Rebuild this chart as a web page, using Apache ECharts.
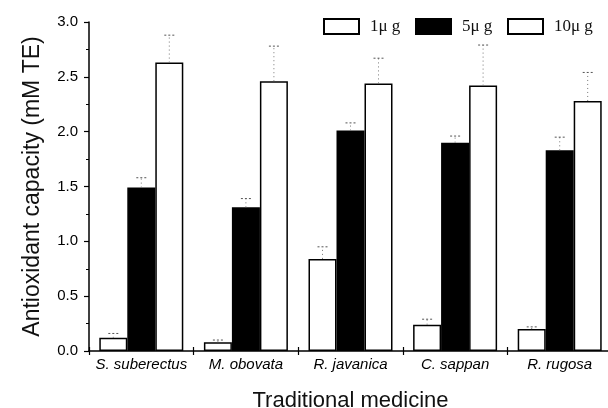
<!DOCTYPE html>
<html>
<head>
<meta charset="utf-8">
<script src="https://cdn.jsdelivr.net/npm/echarts@6/dist/echarts.min.js"></script>
<style>html,body{margin:0;padding:0;background:#fff}#c{width:608px;height:408px}</style>
</head>
<body>
<div id="c"></div>
<script>
var categories = ['S. suberectus', 'M. obovata', 'R. javanica', 'C. sappan', 'R. rugosa'];
var seriesNames = ['1\u03bc g', '5\u03bc g', '10\u03bc g'];
var values1 = [0.12, 0.08, 0.84, 0.24, 0.20];
var values5 = [1.49, 1.31, 2.01, 1.90, 1.83];
var values10 = [2.63, 2.46, 2.44, 2.42, 2.28];
var err1 = [0.16, 0.10, 0.95, 0.29, 0.22];
var err5 = [1.58, 1.39, 2.08, 1.96, 1.95];
var err10 = [2.88, 2.78, 2.67, 2.79, 2.54];
var yTicks = [0, 0.5, 1.0, 1.5, 2.0, 2.5, 3.0];

var BW = 28;
var chart = echarts.init(document.getElementById('c'));

function errSeries(tops, vals, k) {
  var data = vals.map(function (v, i) { return [i, v, tops[i]]; });
  return {
    type: 'custom', xAxisIndex: 0, yAxisIndex: 0, silent: true, z: 5,
    data: data,
    renderItem: function (params, api) {
      var base = api.coord([api.value(0), api.value(1)]);
      var top = api.coord([api.value(0), api.value(2)]);
      var x = base[0] + (k - 1) * BW;
      return {
        type: 'group',
        children: [
          { type: 'line', shape: { x1: x, y1: base[1], x2: x, y2: top[1] },
            style: { stroke: '#777', lineWidth: 1, lineDash: [1, 3] } },
          { type: 'line', shape: { x1: x - 5, y1: top[1], x2: x + 5, y2: top[1] },
            style: { stroke: '#555', lineWidth: 1, lineDash: [2, 2] } }
        ]
      };
    }
  };
}

function mkLegend(name, left) {
  return {
    data: [name], left: left, top: 18, icon: 'rect', itemWidth: 35, itemHeight: 15,
    itemGap: 0, padding: 0,
    textStyle: { fontFamily: 'Liberation Serif', fontSize: 17, color: '#111', padding: [0, 0, 0, 6] }
  };
}

var barStyleWhite = { color: '#fff', borderColor: '#000', borderWidth: 1.5 };
var barStyleBlack = { color: '#000', borderColor: '#000', borderWidth: 1.5 };

chart.setOption({
  animation: false,
  backgroundColor: '#fff',
  legend: [mkLegend(seriesNames[0], 323), mkLegend(seriesNames[1], 415), mkLegend(seriesNames[2], 507)],
  grid: { left: 89, right: -4, top: 22, bottom: 57, containLabel: false, outerBoundsMode: 'none' },
  xAxis: [{
    type: 'category', data: categories,
    axisLine: { lineStyle: { color: '#000', width: 1.5 } },
    axisTick: { show: true, length: 4, lineStyle: { color: '#000', width: 1.2 } },
    axisLabel: { interval: 0, color: '#000', fontFamily: 'Liberation Sans', fontStyle: 'italic', fontSize: 15, margin: 6 },
    name: 'Traditional medicine', nameLocation: 'middle', nameGap: 39,
    nameTextStyle: { fontFamily: 'Liberation Sans', fontSize: 22, color: '#111' }
  }, {
    type: 'category', data: categories, position: 'bottom',
    axisLine: { show: false },
    axisTick: { show: true, inside: true, length: 4, lineStyle: { color: '#000', width: 1.2 } },
    axisLabel: { show: false }
  }],
  yAxis: {
    type: 'value', min: 0, max: 3, interval: 0.5,
    axisLine: { show: true, lineStyle: { color: '#000', width: 1.5 } },
    axisTick: { show: true, length: 5, lineStyle: { color: '#000', width: 1.2 } },
    minorTick: { show: true, splitNumber: 2, length: 3, lineStyle: { color: '#000', width: 1 } },
    splitLine: { show: false },
    axisLabel: { color: '#000', fontFamily: 'Liberation Sans', fontSize: 15, margin: 11,
      formatter: function (v) { return v.toFixed(1); } },
    name: 'Antioxidant capacity (mM TE)', nameLocation: 'middle', nameGap: 45,
    nameTextStyle: { fontFamily: 'Liberation Sans', fontSize: 23, color: '#111' }
  },
  series: [
    { name: seriesNames[0], type: 'bar', data: values1, barWidth: BW, barGap: '0%', itemStyle: barStyleWhite },
    { name: seriesNames[1], type: 'bar', data: values5, barWidth: BW, barGap: '0%', itemStyle: barStyleBlack },
    { name: seriesNames[2], type: 'bar', data: values10, barWidth: BW, barGap: '0%', itemStyle: barStyleWhite },
    errSeries(err1, values1, 0),
    errSeries(err5, values5, 1),
    errSeries(err10, values10, 2)
  ]
});
</script>
</body>
</html>
